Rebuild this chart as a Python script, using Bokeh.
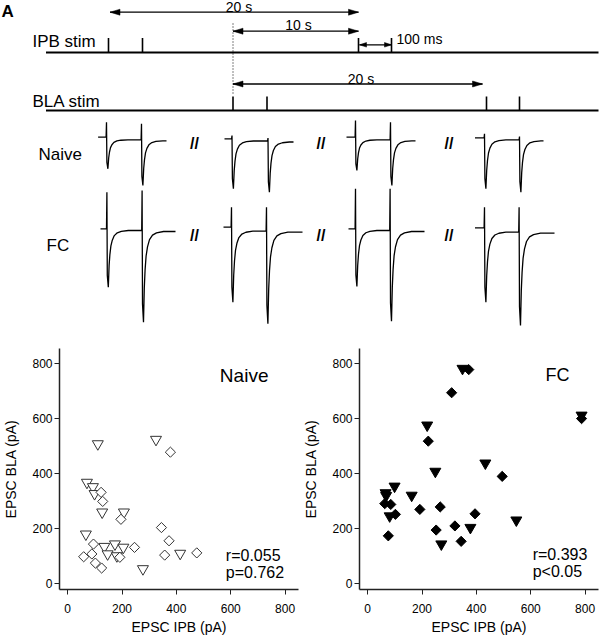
from bokeh.plotting import figure
from bokeh.layouts import column, row
from bokeh.models import Range1d, Label
from bokeh.core.properties import value
from bokeh.embed import file_html
from bokeh.resources import INLINE

FONT = "Liberation Sans"

# ================= Panel A : stimulation protocol (schematic units) =================
ipb_stim_x = [108, 142, 358, 391]
bla_stim_x = [232.5, 266.5, 486, 519]
stim_line_y = [52, 110]          # IPB, BLA baselines
stim_tick_top = [37.5, 96]
line_start_x = 45.5
line_end_x = 598

arrow_x0 = [109.5, 232.5, 359, 232.5]
arrow_x1 = [358, 358, 391, 482]
arrow_y = [11.7, 30.7, 44.3, 83.5]
arrow_head_len = [10, 10, 7, 10]
arrow_head_w = [3.0, 3.0, 2.3, 3.0]

interval_text = ["20 s", "10 s", "100 ms", "20 s"]
interval_text_x = [238.5, 298, 396, 360.5]
interval_text_y = [6.5, 24, 38.5, 78.5]
interval_align = ["center", "center", "left", "center"]

row_text = ["IPB stim", "BLA stim", "Naive", "FC"]
row_text_x = [32, 32, 38, 46]
row_text_y = [40.5, 100.5, 154, 245]

dotted_x = 232.5
dotted_y = [23, 95]

break_x = [194, 320.5, 448.5]
break_y = [143, 235]

# EPSC traces: one entry per sweep group (4 per row)
naive = dict(
    start=[97.6, 224, 346, 474.5], stim1=[106, 231.5, 355, 484],
    stim2=[141, 267.5, 390, 519], end=[166, 293, 415, 543],
    pre=[136.7, 138.3, 136.7, 137.3], flat=[139.3, 140.5, 139.3, 139.3],
    art1=[121.7, 135, 120, 133.3], peak1=[168.3, 188.3, 170, 188.3],
    art2=[123.3, 137.5, 121.7, 136], peak2=[185, 191.7, 185, 191.7],
)
fc = dict(
    start=[100, 223, 348, 474.5], stim1=[106.4, 231, 355, 484],
    stim2=[141.6, 266, 389.6, 518.6], end=[175, 302, 424, 554],
    pre=[228.3, 226.7, 228.3, 227.3], flat=[230, 230.7, 230, 231.7],
    art1=[191.7, 206.7, 188.3, 206.7], peak1=[286.7, 301.7, 286, 301.7],
    art2=[190, 206.7, 188.3, 206.7], peak2=[321.7, 323.3, 320.7, 325],
)
# decay shape (offset after peak, fraction of amplitude left)
decay_dx = [0.8, 1.6, 2.6, 4.0, 6.0, 9.0, 13.0, 20.0]
decay_frac = [0.62, 0.42, 0.27, 0.17, 0.09, 0.04, 0.015, 0.0]

# ================= Panel B : scatter data (pA) =================
naive_tri_x = [111, 325, 71, 93, 99, 127, 207, 67, 135, 174, 205, 147, 181, 414, 277]
naive_tri_y = [506, 522, 366, 350, 325, 258, 258, 178, 133, 142, 130, 106, 99, 108, 52]
naive_dia_x = [378, 123, 129, 196, 345, 373, 95, 246, 192, 357, 475, 59, 89, 102, 125]
naive_dia_y = [476, 330, 297, 232, 202, 154, 142, 130, 94, 102, 110, 96, 106, 73, 55]
fc_tri_x = [349, 219, 249, 433, 787, 99, 66, 68, 162, 81, 378, 271, 547]
fc_tri_y = [780, 574, 406, 436, 610, 352, 328, 318, 319, 244, 202, 142, 229]
fc_dia_x = [372, 309, 223, 495, 787, 63, 85, 192, 267, 102, 395, 252, 321, 344, 76]
fc_dia_y = [776, 692, 516, 388, 598, 289, 286, 268, 277, 250, 252, 193, 208, 152, 172]
tick_vals = [0, 200, 400, 600, 800]
stats = {"Naive": ["r=0.055", "p=0.762"], "FC": ["r=0.393", "p<0.05"]}

# ---------------------------------------------------------------------------
pa = figure(width=600, height=330, x_range=Range1d(0, 600), y_range=Range1d(330, 0),
            output_backend="svg", toolbar_location=None, min_border=0,
            x_axis_location=None, y_axis_location=None)
pa.grid.visible = False
pa.outline_line_color = None

# baselines and stim ticks
pa.segment(x0=[line_start_x] * 2, x1=[line_end_x] * 2, y0=stim_line_y, y1=stim_line_y,
           line_color="black", line_width=2)
pa.segment(x0=ipb_stim_x, x1=ipb_stim_x, y0=[stim_tick_top[0]] * 4, y1=[stim_line_y[0]] * 4,
           line_color="black", line_width=1.6)
pa.segment(x0=bla_stim_x, x1=bla_stim_x, y0=[stim_tick_top[1]] * 4, y1=[stim_line_y[1]] * 4,
           line_color="black", line_width=1.6)
pa.line(x=[dotted_x, dotted_x], y=dotted_y, line_color="black", line_width=1, line_dash="1 2")

# double arrows
hx, hy = [], []
for x0, x1, y, L, w in zip(arrow_x0, arrow_x1, arrow_y, arrow_head_len, arrow_head_w):
    hx.append([x0, x0 + L, x0 + L]); hy.append([y, y - w, y + w])
    hx.append([x1, x1 - L, x1 - L]); hy.append([y, y - w, y + w])
pa.segment(x0=arrow_x0, x1=arrow_x1, y0=arrow_y, y1=arrow_y, line_color="black", line_width=1.3)
pa.patches(xs=hx, ys=hy, fill_color="black", line_color="black", line_width=0.5)

for t, x, y, a in zip(interval_text, interval_text_x, interval_text_y, interval_align):
    pa.text(x=[x], y=[y], text=[t], text_font=value(FONT), text_font_size="14px",
            text_align=a, text_baseline="middle", text_color="black")
pa.text(x=row_text_x, y=row_text_y, text=row_text, text_font=value(FONT),
        text_font_size="17px", text_align="left", text_baseline="middle", text_color="black")
pa.text(x=[1], y=[11], text=["A"], text_font=value(FONT), text_font_size="17px",
        text_font_style="bold", text_align="left", text_baseline="middle", text_color="black")
bx = [b for b in break_x for _ in break_y]
by = [y for _ in break_x for y in break_y]
pa.text(x=bx, y=by, text=["//"] * len(bx), text_font=value(FONT), text_font_size="16px",
        text_font_style="bold", text_align="center", text_baseline="middle", text_color="black")


def build_traces(g):
    xs_all, ys_all = [], []
    for i in range(4):
        xs = [g["start"][i], g["stim1"][i] - 0.4]
        ys = [g["pre"][i], g["pre"][i]]
        tail = g["flat"][i] + 1.0
        sweeps = [(g["stim1"][i], g["art1"][i], g["peak1"][i], g["pre"][i], g["flat"][i], g["stim2"][i]),
                  (g["stim2"][i], g["art2"][i], g["peak2"][i], g["flat"][i], tail, g["end"][i])]
        for k, (s, art, pk, b0, b1, nxt) in enumerate(sweeps):
            xs += [s, s + 0.4, s + 1.4]
            ys += [art, b0 + 0.8 * (pk - b0), pk]
            for dx, f in zip(decay_dx, decay_frac):
                xx = s + 1.4 + dx
                if xx < nxt - 1.0:
                    xs.append(xx); ys.append(b1 + f * (pk - b1))
            xs.append(nxt - 0.4 if k == 0 else nxt); ys.append(b1)
        xs_all.append(xs); ys_all.append(ys)
    return xs_all, ys_all


for g in (naive, fc):
    txs, tys = build_traces(g)
    pa.multi_line(xs=txs, ys=tys, line_color="black", line_width=1.3)


# ---------------------------------------------------------------------------
def scatter_fig(x_end):
    p = figure(width=300, height=307, x_range=Range1d(-30, x_end), y_range=Range1d(-23, 852.7),
               output_backend="svg", toolbar_location=None,
               min_border_left=54, min_border_right=2,
               min_border_top=18, min_border_bottom=46)
    p.grid.grid_line_color = None
    p.outline_line_color = None
    p.xaxis.ticker = tick_vals
    p.yaxis.ticker = tick_vals
    p.xaxis.axis_label = "EPSC IPB (pA)"
    p.yaxis.axis_label = "EPSC BLA (pA)"
    p.axis.axis_label_text_font = FONT
    p.axis.axis_label_text_font_size = "14px"
    p.axis.axis_label_text_font_style = "normal"
    p.axis.axis_label_text_color = "black"
    p.axis.major_label_text_font = FONT
    p.axis.major_label_text_font_size = "12px"
    p.axis.major_label_text_color = "black"
    p.axis.major_tick_out = 5
    p.axis.major_tick_in = 0
    p.axis.major_tick_line_color = "#222222"
    p.axis.minor_tick_line_color = None
    p.axis.axis_line_width = 1.5
    p.axis.axis_line_color = "#222222"
    p.yaxis.major_label_standoff = 2
    p.xaxis.major_label_standoff = 9
    p.xaxis.axis_label_standoff = 3
    p.yaxis.axis_label_standoff = 10
    return p


pl = scatter_fig(849.3)
pr = scatter_fig(849.3)

pl.scatter(naive_tri_x, naive_tri_y, marker="inverted_triangle", size=11,
           fill_color="white", line_color="#333333", line_width=1)
pl.scatter(naive_dia_x, naive_dia_y, marker="square", angle=0.785398, size=7.2,
           fill_color="white", line_color="#333333", line_width=1)
pr.scatter(fc_tri_x, fc_tri_y, marker="inverted_triangle", size=11,
           fill_color="black", line_color="black", line_width=1)
pr.scatter(fc_dia_x, fc_dia_y, marker="square", angle=0.785398, size=7.2,
           fill_color="black", line_color="black", line_width=1)

pl.text(x=[560], y=[756], text=["Naive"], text_font=value(FONT), text_font_size="19px",
        text_align="left", text_baseline="middle", text_color="black")
pr.text(x=[654], y=[756], text=["FC"], text_font=value(FONT), text_font_size="18px",
        text_align="left", text_baseline="middle", text_color="black")
pl.text(x=[582, 582], y=[100, 37], text=stats["Naive"], text_font=value(FONT),
        text_font_size="16px", text_align="left", text_baseline="middle", text_color="black")
pr.text(x=[607, 607], y=[105, 41], text=stats["FC"], text_font=value(FONT),
        text_font_size="16px", text_align="left", text_baseline="middle", text_color="black")

pl.add_layout(Label(x=-217, y=889, text="B", text_font=FONT, text_font_size="17px",
                    text_font_style="bold", text_baseline="top", text_align="left",
                    text_color="black"))

layout = column(pa, row(pl, pr))
open("out.html", "w").write(file_html(layout, INLINE))
